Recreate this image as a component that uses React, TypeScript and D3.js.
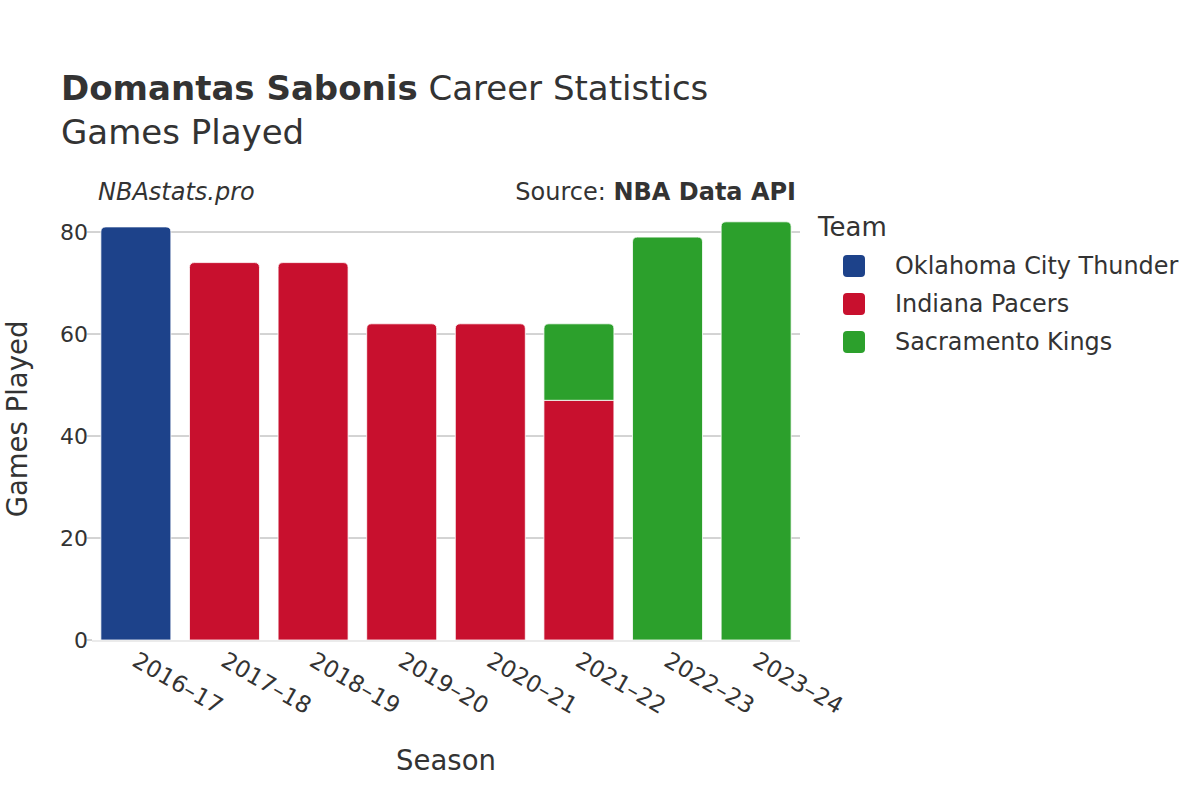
import React from 'react';
import * as d3 from 'd3';

const width = 1200;
const height = 800;
const margin = { top: 232, right: 400, bottom: 160, left: 92 };

const seasons = ['2016–17', '2017–18', '2018–19', '2019–20', '2020–21', '2021–22', '2022–23', '2023–24'];
const teams = ['Oklahoma City Thunder', 'Indiana Pacers', 'Sacramento Kings'];
const teamColors = ['#1d428a', '#c8102e', '#2ca02c'];
// games per season for each team, in stacking order
const okcGames = [81, 0, 0, 0, 0, 0, 0, 0];
const indGames = [0, 74, 74, 62, 62, 47, 0, 0];
const sacGames = [0, 0, 0, 0, 0, 15, 79, 82];
const yTicks = [0, 20, 40, 60, 80];

const font = '"DejaVu Sans", sans-serif';
const textColor = '#333';

// bar with rounded top corners only (when it is the top of the stack)
function barPath(x: number, y: number, w: number, h: number, r: number) {
	if (r <= 0) return `M${x},${y}h${w}v${h}h${-w}Z`;
	r = Math.min(r, h, w / 2);
	return `M${x},${y + h}V${y + r}Q${x},${y} ${x + r},${y}H${x + w - r}Q${x + w},${y} ${x + w},${y + r}V${y + h}Z`;
}

export default function App() {
	const plotRight = width - margin.right;
	const xScale = d3.scaleBand().domain(seasons).range([margin.left, plotRight]).paddingInner(0.21).paddingOuter(0.1);
	const yScale = d3.scaleLinear().domain([0, 84]).range([height - margin.bottom, height - margin.bottom - 84 * 5.1]);

	const rows = seasons.map((s, i) => ({ season: s, 0: okcGames[i], 1: indGames[i], 2: sacGames[i] }));
	const stack = d3.stack<any>().keys(['0', '1', '2'])(rows);

	const y0 = yScale(0);

	return (
		<svg width={width} height={height} style={{ position: 'absolute', left: 0, top: 0, background: '#fff' }} fontFamily={font}>
			{/* title */}
			<text x={61} y={100} fontSize={34} fill={textColor}>
				<tspan fontWeight="bold">Domantas Sabonis</tspan> Career Statistics
			</text>
			<text x={61} y={144} fontSize={34} fill={textColor}>Games Played</text>
			<text x={98} y={200} fontSize={24} fontStyle="italic" fill={textColor}>NBAstats.pro</text>
			<text x={796} y={200} fontSize={24} textAnchor="end" fill={textColor}>
				Source: <tspan fontWeight="bold">NBA Data API</tspan>
			</text>

			{/* grid + y axis */}
			{yTicks.map((t) => (
				<g key={t}>
					{t > 0 && <line x1={margin.left} x2={plotRight} y1={yScale(t)} y2={yScale(t)} stroke="#a8a8a8" strokeWidth={1} />}
					<line x1={margin.left - 5} x2={margin.left} y1={yScale(t)} y2={yScale(t)} stroke="#a8a8a8" strokeWidth={1} />
					<text x={margin.left - 4} y={yScale(t)} dy="0.36em" textAnchor="end" fontSize={22} fill={textColor}>{t}</text>
				</g>
			))}

			{/* bars */}
			{stack.map((layer, li) =>
				layer.map((d, i) => {
					const v = d[1] - d[0];
					if (v <= 0) return null;
					const isTop = stack.slice(li + 1).every((l) => l[i][1] - l[i][0] <= 0);
					const top = yScale(d[1]);
					const bottom = yScale(d[0]);
					return (
						<path
							key={`${li}-${i}`}
							d={barPath(xScale(seasons[i])!, top, xScale.bandwidth(), bottom - top, isTop ? 5 : 0)}
							fill={teamColors[li]}
							stroke="#fff"
							strokeWidth={0.8}
						/>
					);
				})
			)}

			{/* zero line */}
			<line x1={margin.left} x2={plotRight} y1={y0 + 1} y2={y0 + 1} stroke="#ebebeb" strokeWidth={2} />

			{/* x axis labels */}
			{seasons.map((s) => {
				const cx = xScale(s)! + xScale.bandwidth() / 2;
				return (
					<text key={s} transform={`translate(${cx - 5},${y0 + 25}) rotate(30)`} fontSize={23} fill={textColor}>
						{s}
					</text>
				);
			})}

			{/* axis titles */}
			<text x={(margin.left + plotRight) / 2} y={770} textAnchor="middle" fontSize={27.5} fill={textColor}>Season</text>
			<text transform={`translate(27,419) rotate(-90)`} textAnchor="middle" fontSize={27.5} fill={textColor}>Games Played</text>

			{/* legend */}
			<text x={818} y={236} fontSize={26} fill={textColor}>Team</text>
			{teams.map((t, i) => (
				<g key={t} transform={`translate(843,${266 + i * 38})`}>
					<rect x={0} y={-11} width={22} height={22} rx={4} fill={teamColors[i]} />
					<text x={52} y={0} dy="0.35em" fontSize={23.9} fill={textColor}>{t}</text>
				</g>
			))}
		</svg>
	);
}
